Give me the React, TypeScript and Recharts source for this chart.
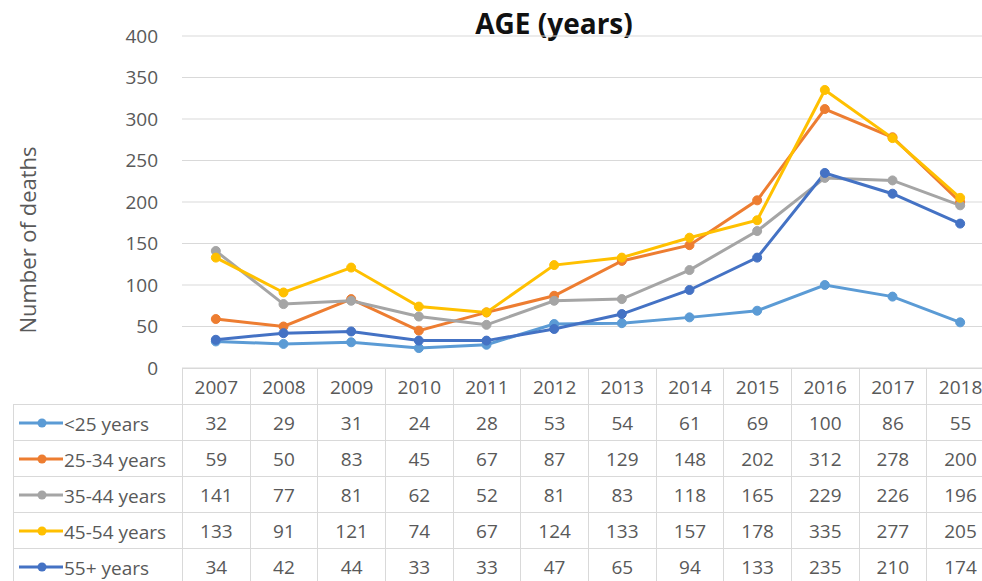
import { LineChart, Line, XAxis, YAxis, CartesianGrid } from "recharts";

const YEARS = ["2007", "2008", "2009", "2010", "2011", "2012", "2013", "2014", "2015", "2016", "2017", "2018"];
const UNDER_25 = [32, 29, 31, 24, 28, 53, 54, 61, 69, 100, 86, 55];
const AGE_25_34 = [59, 50, 83, 45, 67, 87, 129, 148, 202, 312, 278, 200];
const AGE_35_44 = [141, 77, 81, 62, 52, 81, 83, 118, 165, 229, 226, 196];
const AGE_45_54 = [133, 91, 121, 74, 67, 124, 133, 157, 178, 335, 277, 205];
const AGE_55_PLUS = [34, 42, 44, 33, 33, 47, 65, 94, 133, 235, 210, 174];
const Y_TICKS = [0, 50, 100, 150, 200, 250, 300, 350, 400];

const SERIES = [
  { key: "u25", name: "<25 years", color: "#5B9BD5", values: UNDER_25 },
  { key: "a25", name: "25-34 years", color: "#ED7D31", values: AGE_25_34 },
  { key: "a35", name: "35-44 years", color: "#A5A5A5", values: AGE_35_44 },
  { key: "a45", name: "45-54 years", color: "#FFC000", values: AGE_45_54 },
  { key: "a55", name: "55+ years", color: "#4472C4", values: AGE_55_PLUS },
];

const data = YEARS.map((year, i) => {
  const row: any = { year };
  SERIES.forEach((s) => (row[s.key] = s.values[i]));
  return row;
});

const FONT = "'Open Sans', sans-serif";
const TEXT = "#595959";
const BORDER = "1px solid #d9d9d9";
const COL_W = 812 / 12;

const cell: React.CSSProperties = {
  border: BORDER,
  textAlign: "center",
  padding: 0,
  height: 35,
  width: COL_W,
};

const App = () => {
  return (
    <div
      style={{
        position: "absolute",
        left: 0,
        top: 0,
        width: 982,
        height: 581,
        overflow: "hidden",
        background: "#fff",
        fontFamily: FONT,
        color: TEXT,
      }}
    >
      <div
        style={{
          position: "absolute",
          left: 454,
          width: 200,
          top: 4,
          textAlign: "center",
          fontSize: 28,
          fontWeight: 700,
          color: "#111",
        }}
      >
        AGE (years)
      </div>
      <div
        style={{
          position: "absolute",
          left: 27 - 120,
          top: 240 - 14,
          width: 240,
          height: 28,
          lineHeight: "28px",
          textAlign: "center",
          fontSize: 22,
          transform: "rotate(-90deg)",
        }}
      >
        Number of deaths
      </div>

      {/* chart is wider than the window: the 2018 column runs off the right edge */}
      <LineChart
        width={1010}
        height={392}
        data={data}
        margin={{ top: 36, right: 16, bottom: 24, left: 0 }}
        style={{ position: "absolute", left: 0, top: 0 }}
      >
        <CartesianGrid vertical={false} stroke="#d9d9d9" />
        <XAxis
          dataKey="year"
          hide
          padding={{ left: COL_W / 2, right: COL_W / 2 }}
        />
        <YAxis
          width={182}
          domain={[0, 400]}
          ticks={Y_TICKS}
          tickLine={false}
          axisLine={false}
          tickSize={0}
          tickMargin={24}
          tick={{ fill: TEXT, fontSize: 19, fontFamily: FONT }}
        />
        {SERIES.map((s) => (
          <Line
            key={s.key}
            dataKey={s.key}
            name={s.name}
            stroke={s.color}
            strokeWidth={3}
            dot={{ r: 4.5, fill: s.color, stroke: s.color, strokeWidth: 1 }}
            isAnimationActive={false}
          />
        ))}
      </LineChart>

      <table
        style={{
          position: "absolute",
          left: 13,
          top: 368,
          borderCollapse: "collapse",
          tableLayout: "fixed",
          width: 169 + 812,
          fontSize: 19,
          fontFamily: FONT,
          color: TEXT,
        }}
      >
        <colgroup>
          <col style={{ width: 169 }} />
          {YEARS.map((y) => (
            <col key={y} style={{ width: COL_W }} />
          ))}
        </colgroup>
        <tbody>
          <tr>
            <td style={{ padding: 0, border: "none", borderBottom: BORDER }} />
            {YEARS.map((y) => (
              <td key={y} style={cell}>
                {y}
              </td>
            ))}
          </tr>
          {SERIES.map((s) => (
            <tr key={s.key}>
              <td style={{ ...cell, width: 169, textAlign: "left", whiteSpace: "nowrap" }}>
                <svg width={46} height={12} style={{ verticalAlign: "middle", marginLeft: 4 }}>
                  <line x1={1} y1={6} x2={45} y2={6} stroke={s.color} strokeWidth={3} />
                  <circle cx={24} cy={6} r={4.5} fill={s.color} />
                </svg>
                <span style={{ verticalAlign: "middle" }}>{s.name}</span>
              </td>
              {s.values.map((v, i) => (
                <td key={i} style={cell}>
                  {v}
                </td>
              ))}
            </tr>
          ))}
        </tbody>
      </table>
    </div>
  );
};

export default App;
